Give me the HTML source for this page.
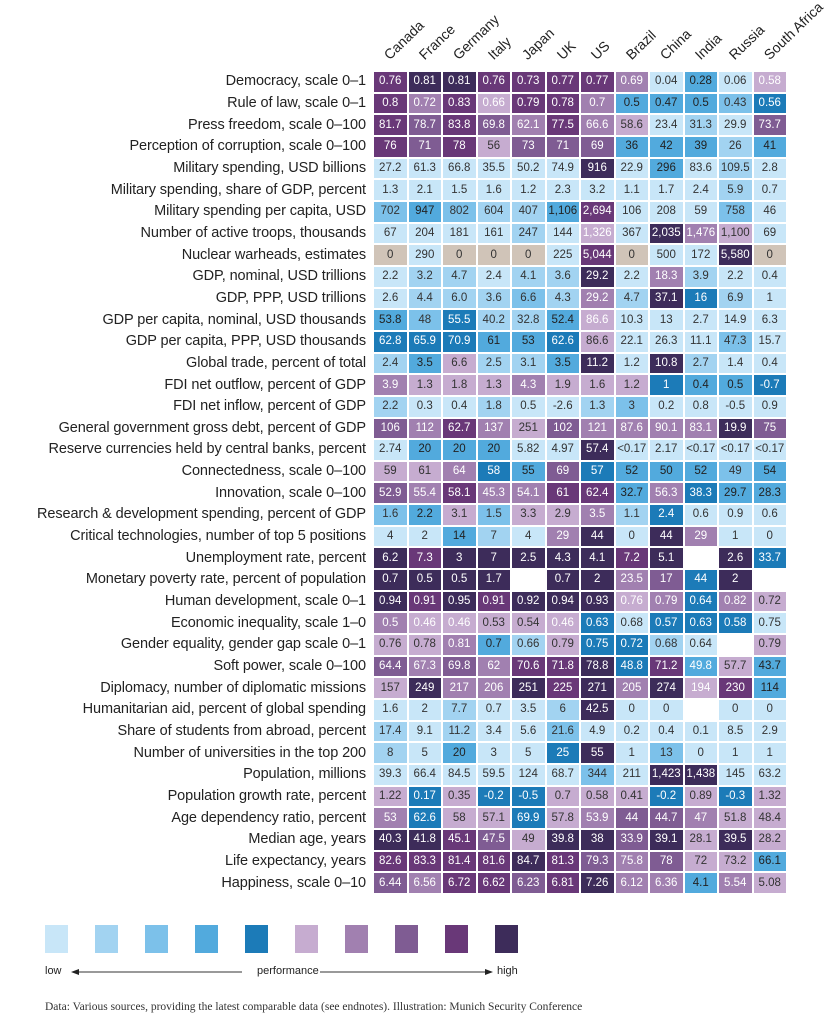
<!DOCTYPE html>
<html><head><meta charset="utf-8"><style>
body{margin:0;width:834px;height:1024px;background:#fff;position:relative;font-family:"Liberation Sans",sans-serif;overflow:hidden}
table{position:absolute;left:0;top:70px;border-collapse:separate;border-spacing:2px}
td{width:32.5px;height:19.66px;padding:0;text-align:center;font-size:11.5px;color:#333;line-height:19px}
td.l{width:370px;text-align:right;padding-right:6px;box-sizing:border-box;font-size:14.5px;color:#222;background:none;white-space:nowrap;letter-spacing:-0.1px}
.a{background:#c8e6f8}.b{background:#a2d3f1}.c{background:#7cc1ea}.d{background:#52aadd;color:#222}.e{background:#1c7bb8;color:#fff}
.f{background:#c6acd0}.g{background:#a180b0;color:#fff}.h{background:#7f5c93;color:#fff}.i{background:#693878;color:#fff}.j{background:#3d2c5a;color:#fff}
.n{background:#d0c4b8}.w{background:#fff}
.hd{position:absolute;font-size:14px;color:#222;transform-origin:0 100%;transform:rotate(-44deg);white-space:nowrap;line-height:14px}
.lg{position:absolute;top:925px;width:23px;height:28px}
.t{position:absolute;font-size:11px;color:#222}
</style></head><body>
<div class="hd" style="left:391px;top:48px">Canada</div>
<div class="hd" style="left:426px;top:48px">France</div>
<div class="hd" style="left:460px;top:48px">Germany</div>
<div class="hd" style="left:495px;top:48px">Italy</div>
<div class="hd" style="left:529px;top:48px">Japan</div>
<div class="hd" style="left:564px;top:48px">UK</div>
<div class="hd" style="left:598px;top:48px">US</div>
<div class="hd" style="left:633px;top:48px">Brazil</div>
<div class="hd" style="left:667px;top:48px">China</div>
<div class="hd" style="left:702px;top:48px">India</div>
<div class="hd" style="left:736px;top:48px">Russia</div>
<div class="hd" style="left:771px;top:48px">South Africa</div>
<table>
<tr><td class="l">Democracy, scale 0–1</td><td class="i">0.76</td><td class="j">0.81</td><td class="j">0.81</td><td class="i">0.76</td><td class="i">0.73</td><td class="i">0.77</td><td class="i">0.77</td><td class="g">0.69</td><td class="a">0.04</td><td class="d">0.28</td><td class="a">0.06</td><td class="f" style="color:#fff">0.58</td></tr>
<tr><td class="l">Rule of law, scale 0–1</td><td class="i">0.8</td><td class="g">0.72</td><td class="i">0.83</td><td class="f" style="color:#fff">0.66</td><td class="i">0.79</td><td class="i">0.78</td><td class="g">0.7</td><td class="d">0.5</td><td class="d">0.47</td><td class="d">0.5</td><td class="c">0.43</td><td class="e">0.56</td></tr>
<tr><td class="l">Press freedom, scale 0–100</td><td class="i">81.7</td><td class="h">78.7</td><td class="i">83.8</td><td class="h">69.8</td><td class="g">62.1</td><td class="i">77.5</td><td class="g">66.6</td><td class="f">58.6</td><td class="a">23.4</td><td class="b">31.3</td><td class="a">29.9</td><td class="h">73.7</td></tr>
<tr><td class="l">Perception of corruption, scale 0–100</td><td class="i">76</td><td class="h">71</td><td class="i">78</td><td class="f">56</td><td class="h">73</td><td class="h">71</td><td class="h">69</td><td class="d">36</td><td class="d">42</td><td class="d">39</td><td class="b">26</td><td class="d">41</td></tr>
<tr><td class="l">Military spending, USD billions</td><td class="a">27.2</td><td class="a">61.3</td><td class="a">66.8</td><td class="a">35.5</td><td class="a">50.2</td><td class="a">74.9</td><td class="j">916</td><td class="a">22.9</td><td class="d">296</td><td class="a">83.6</td><td class="b">109.5</td><td class="a">2.8</td></tr>
<tr><td class="l">Military spending, share of GDP, percent</td><td class="a">1.3</td><td class="a">2.1</td><td class="a">1.5</td><td class="a">1.6</td><td class="a">1.2</td><td class="a">2.3</td><td class="a">3.2</td><td class="a">1.1</td><td class="a">1.7</td><td class="a">2.4</td><td class="b">5.9</td><td class="a">0.7</td></tr>
<tr><td class="l">Military spending per capita, USD</td><td class="c">702</td><td class="d">947</td><td class="c">802</td><td class="b">604</td><td class="b">407</td><td class="d">1,106</td><td class="i">2,694</td><td class="a">106</td><td class="a">208</td><td class="a">59</td><td class="c">758</td><td class="a">46</td></tr>
<tr><td class="l">Number of active troops, thousands</td><td class="a">67</td><td class="a">204</td><td class="a">181</td><td class="a">161</td><td class="b">247</td><td class="a">144</td><td class="f" style="color:#fff">1,326</td><td class="a">367</td><td class="j">2,035</td><td class="g">1,476</td><td class="f">1,100</td><td class="a">69</td></tr>
<tr><td class="l">Nuclear warheads, estimates</td><td class="n">0</td><td class="a">290</td><td class="n">0</td><td class="n">0</td><td class="n">0</td><td class="a">225</td><td class="i">5,044</td><td class="n">0</td><td class="a">500</td><td class="a">172</td><td class="j">5,580</td><td class="n">0</td></tr>
<tr><td class="l">GDP, nominal, USD trillions</td><td class="a">2.2</td><td class="b">3.2</td><td class="b">4.7</td><td class="a">2.4</td><td class="b">4.1</td><td class="b">3.6</td><td class="j">29.2</td><td class="a">2.2</td><td class="g">18.3</td><td class="b">3.9</td><td class="a">2.2</td><td class="a">0.4</td></tr>
<tr><td class="l">GDP, PPP, USD trillions</td><td class="a">2.6</td><td class="b">4.4</td><td class="b">6.0</td><td class="b">3.6</td><td class="c">6.6</td><td class="b">4.3</td><td class="g">29.2</td><td class="b">4.7</td><td class="j">37.1</td><td class="e">16</td><td class="b">6.9</td><td class="a">1</td></tr>
<tr><td class="l">GDP per capita, nominal, USD thousands</td><td class="d">53.8</td><td class="c">48</td><td class="e">55.5</td><td class="b">40.2</td><td class="b">32.8</td><td class="d">52.4</td><td class="f" style="color:#fff">86.6</td><td class="a">10.3</td><td class="a">13</td><td class="a">2.7</td><td class="a">14.9</td><td class="a">6.3</td></tr>
<tr><td class="l">GDP per capita, PPP, USD thousands</td><td class="e">62.8</td><td class="e">65.9</td><td class="e">70.9</td><td class="d">61</td><td class="d">53</td><td class="e">62.6</td><td class="f">86.6</td><td class="a">22.1</td><td class="a">26.3</td><td class="a">11.1</td><td class="c">47.3</td><td class="a">15.7</td></tr>
<tr><td class="l">Global trade, percent of total</td><td class="b">2.4</td><td class="d">3.5</td><td class="f">6.6</td><td class="b">2.5</td><td class="b">3.1</td><td class="d">3.5</td><td class="j">11.2</td><td class="a">1.2</td><td class="j">10.8</td><td class="b">2.7</td><td class="a">1.4</td><td class="a">0.4</td></tr>
<tr><td class="l">FDI net outflow, percent of GDP</td><td class="g">3.9</td><td class="f">1.3</td><td class="f">1.8</td><td class="f">1.3</td><td class="g">4.3</td><td class="f">1.9</td><td class="f">1.6</td><td class="f">1.2</td><td class="e">1</td><td class="d">0.4</td><td class="d">0.5</td><td class="e">-0.7</td></tr>
<tr><td class="l">FDI net inflow, percent of GDP</td><td class="b">2.2</td><td class="a">0.3</td><td class="a">0.4</td><td class="b">1.8</td><td class="a">0.5</td><td class="a">-2.6</td><td class="b">1.3</td><td class="c">3</td><td class="a">0.2</td><td class="a">0.8</td><td class="a">-0.5</td><td class="a">0.9</td></tr>
<tr><td class="l">General government gross debt, percent of GDP</td><td class="h">106</td><td class="g">112</td><td class="i">62.7</td><td class="g">137</td><td class="f">251</td><td class="h">102</td><td class="g">121</td><td class="g">87.6</td><td class="g">90.1</td><td class="g">83.1</td><td class="j">19.9</td><td class="h">75</td></tr>
<tr><td class="l">Reserve currencies held by central banks, percent</td><td class="a">2.74</td><td class="d">20</td><td class="d">20</td><td class="d">20</td><td class="a">5.82</td><td class="a">4.97</td><td class="j">57.4</td><td class="a">&lt;0.17</td><td class="a">2.17</td><td class="a">&lt;0.17</td><td class="a">&lt;0.17</td><td class="a">&lt;0.17</td></tr>
<tr><td class="l">Connectedness, scale 0–100</td><td class="f">59</td><td class="f">61</td><td class="g">64</td><td class="e">58</td><td class="d">55</td><td class="h">69</td><td class="e">57</td><td class="d">52</td><td class="d">50</td><td class="d">52</td><td class="c">49</td><td class="d">54</td></tr>
<tr><td class="l">Innovation, scale 0–100</td><td class="h">52.9</td><td class="g">55.4</td><td class="i">58.1</td><td class="g">45.3</td><td class="g">54.1</td><td class="i">61</td><td class="i">62.4</td><td class="d">32.7</td><td class="g">56.3</td><td class="e">38.3</td><td class="d">29.7</td><td class="d">28.3</td></tr>
<tr><td class="l">Research &amp; development spending, percent of GDP</td><td class="c">1.6</td><td class="d">2.2</td><td class="f">3.1</td><td class="c">1.5</td><td class="f">3.3</td><td class="f">2.9</td><td class="g">3.5</td><td class="b">1.1</td><td class="e">2.4</td><td class="a">0.6</td><td class="a">0.9</td><td class="a">0.6</td></tr>
<tr><td class="l">Critical technologies, number of top 5 positions</td><td class="a">4</td><td class="a">2</td><td class="d">14</td><td class="b">7</td><td class="a">4</td><td class="g">29</td><td class="j">44</td><td class="a">0</td><td class="j">44</td><td class="g">29</td><td class="a">1</td><td class="a">0</td></tr>
<tr><td class="l">Unemployment rate, percent</td><td class="j">6.2</td><td class="i">7.3</td><td class="j">3</td><td class="j">7</td><td class="j">2.5</td><td class="j">4.3</td><td class="j">4.1</td><td class="i">7.2</td><td class="j">5.1</td><td class="w"></td><td class="j">2.6</td><td class="e">33.7</td></tr>
<tr><td class="l">Monetary poverty rate, percent of population</td><td class="j">0.7</td><td class="j">0.5</td><td class="j">0.5</td><td class="j">1.7</td><td class="w"></td><td class="j">0.7</td><td class="j">2</td><td class="g">23.5</td><td class="h">17</td><td class="e">44</td><td class="j">2</td><td class="w"></td></tr>
<tr><td class="l">Human development, scale 0–1</td><td class="j">0.94</td><td class="i">0.91</td><td class="j">0.95</td><td class="i">0.91</td><td class="j">0.92</td><td class="j">0.94</td><td class="j">0.93</td><td class="f" style="color:#fff">0.76</td><td class="g">0.79</td><td class="e">0.64</td><td class="g">0.82</td><td class="f">0.72</td></tr>
<tr><td class="l">Economic inequality, scale 1–0</td><td class="g">0.5</td><td class="f" style="color:#fff">0.46</td><td class="f" style="color:#fff">0.46</td><td class="f">0.53</td><td class="f">0.54</td><td class="f" style="color:#fff">0.46</td><td class="e">0.63</td><td class="a">0.68</td><td class="e">0.57</td><td class="e">0.63</td><td class="e">0.58</td><td class="a">0.75</td></tr>
<tr><td class="l">Gender equality, gender gap scale 0–1</td><td class="f">0.76</td><td class="f">0.78</td><td class="g">0.81</td><td class="d">0.7</td><td class="b">0.66</td><td class="f">0.79</td><td class="e">0.75</td><td class="e">0.72</td><td class="b">0.68</td><td class="a">0.64</td><td class="w"></td><td class="f">0.79</td></tr>
<tr><td class="l">Soft power, scale 0–100</td><td class="h">64.4</td><td class="g">67.3</td><td class="h">69.8</td><td class="g">62</td><td class="i">70.6</td><td class="i">71.8</td><td class="j">78.8</td><td class="e">48.8</td><td class="i">71.2</td><td class="d" style="color:#fff">49.8</td><td class="f">57.7</td><td class="d">43.7</td></tr>
<tr><td class="l">Diplomacy, number of diplomatic missions</td><td class="f">157</td><td class="j">249</td><td class="g">217</td><td class="g">206</td><td class="j">251</td><td class="i">225</td><td class="j">271</td><td class="g">205</td><td class="j">274</td><td class="f" style="color:#fff">194</td><td class="i">230</td><td class="d">114</td></tr>
<tr><td class="l">Humanitarian aid, percent of global spending</td><td class="a">1.6</td><td class="a">2</td><td class="b">7.7</td><td class="a">0.7</td><td class="a">3.5</td><td class="b">6</td><td class="j">42.5</td><td class="a">0</td><td class="a">0</td><td class="w"></td><td class="a">0</td><td class="a">0</td></tr>
<tr><td class="l">Share of students from abroad, percent</td><td class="b">17.4</td><td class="a">9.1</td><td class="b">11.2</td><td class="a">3.4</td><td class="a">5.6</td><td class="c">21.6</td><td class="a">4.9</td><td class="a">0.2</td><td class="a">0.4</td><td class="a">0.1</td><td class="a">8.5</td><td class="a">2.9</td></tr>
<tr><td class="l">Number of universities in the top 200</td><td class="b">8</td><td class="a">5</td><td class="d">20</td><td class="a">3</td><td class="a">5</td><td class="e">25</td><td class="j">55</td><td class="a">1</td><td class="c">13</td><td class="a">0</td><td class="a">1</td><td class="a">1</td></tr>
<tr><td class="l">Population, millions</td><td class="a">39.3</td><td class="a">66.4</td><td class="a">84.5</td><td class="a">59.5</td><td class="a">124</td><td class="a">68.7</td><td class="c">344</td><td class="a">211</td><td class="j">1,423</td><td class="j">1,438</td><td class="a">145</td><td class="a">63.2</td></tr>
<tr><td class="l">Population growth rate, percent</td><td class="f">1.22</td><td class="e">0.17</td><td class="f">0.35</td><td class="e">-0.2</td><td class="e">-0.5</td><td class="f">0.7</td><td class="f">0.58</td><td class="f">0.41</td><td class="e">-0.2</td><td class="f">0.89</td><td class="e">-0.3</td><td class="f">1.32</td></tr>
<tr><td class="l">Age dependency ratio, percent</td><td class="g">53</td><td class="e">62.6</td><td class="f">58</td><td class="f">57.1</td><td class="e">69.9</td><td class="f">57.8</td><td class="g">53.9</td><td class="h">44</td><td class="h">44.7</td><td class="g">47</td><td class="f">51.8</td><td class="f">48.4</td></tr>
<tr><td class="l">Median age, years</td><td class="j">40.3</td><td class="j">41.8</td><td class="i">45.1</td><td class="h">47.5</td><td class="f">49</td><td class="j">39.8</td><td class="j">38</td><td class="h">33.9</td><td class="j">39.1</td><td class="f">28.1</td><td class="j">39.5</td><td class="f">28.2</td></tr>
<tr><td class="l">Life expectancy, years</td><td class="i">82.6</td><td class="i">83.3</td><td class="i">81.4</td><td class="i">81.6</td><td class="j">84.7</td><td class="i">81.3</td><td class="h">79.3</td><td class="g">75.8</td><td class="h">78</td><td class="f">72</td><td class="f">73.2</td><td class="d">66.1</td></tr>
<tr><td class="l">Happiness, scale 0–10</td><td class="h">6.44</td><td class="g">6.56</td><td class="i">6.72</td><td class="i">6.62</td><td class="h">6.23</td><td class="i">6.81</td><td class="j">7.26</td><td class="g">6.12</td><td class="g">6.36</td><td class="d">4.1</td><td class="g">5.54</td><td class="f">5.08</td></tr>
</table>
<div class="lg a" style="left:45px"></div><div class="lg b" style="left:95px"></div><div class="lg c" style="left:145px"></div><div class="lg d" style="left:195px"></div><div class="lg e" style="left:245px"></div>
<div class="lg f" style="left:295px"></div><div class="lg g" style="left:345px"></div><div class="lg h" style="left:395px"></div><div class="lg i" style="left:445px"></div><div class="lg j" style="left:495px"></div>
<div class="t" style="left:45px;top:965px">low</div>
<div class="t" style="left:257px;top:965px">performance</div>
<div class="t" style="left:497px;top:965px">high</div>
<svg style="position:absolute;left:0;top:960px" width="834" height="24">
<line x1="76" y1="12" x2="242" y2="12" stroke="#333" stroke-width="1"/><polygon points="71,12 79,9 79,15" fill="#222"/>
<line x1="320" y1="12" x2="488" y2="12" stroke="#333" stroke-width="1"/><polygon points="493,12 485,9 485,15" fill="#222"/>
</svg>
<div style="position:absolute;left:45px;top:1001px;font-family:'Liberation Serif',serif;font-size:11.5px;color:#333;white-space:nowrap">Data: Various sources, providing the latest comparable data (see endnotes). Illustration: Munich Security Conference</div>
</body></html>
